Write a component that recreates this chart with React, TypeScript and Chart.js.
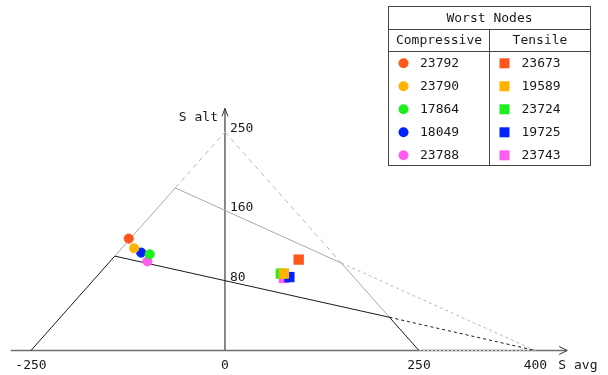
import React, { useEffect, useRef } from "react";
import { Chart, registerables } from "chart.js";

Chart.register(...registerables);

// ---- data ----
const compressiveNodes = ["23792", "23790", "17864", "18049", "23788"];
const compressiveX = [-124, -117, -97, -108, -100];
const compressiveY = [128, 117, 110, 112, 102];

const tensileNodes = ["23673", "19589", "23724", "19725", "23743"];
const tensileX = [95, 76, 72, 83, 76];
const tensileY = [104, 88, 88, 84, 83];

const nodeColors = ["#ff561c", "#ffb200", "#1ef01e", "#0022ff", "#ff5cf0"];

const xTicks = [-250, 0, 250, 400];
const xTickLabels = ["-250", "0", "250", "400"];
const yTicks = [80, 160, 250];
const yTickLabels = ["80", "160", "250"];

// diagram segments [x, y] vertices
const leftBlack = [[-250, 0], [-142, 108]];
const leftGraySolid = [[-142, 108], [-64, 186]];
const leftGrayDash = [[-64, 186], [0, 250]];
const rightGrayDash = [[0, 250], [150, 100]];
const rightGraySolid = [[150, 100], [212, 38]];
const rightBlack = [[212, 38], [250, 0]];
const lowerSolid = [[-142, 108], [212, 38]];
const lowerDash = [[212, 38], [400, 0]];
const upperSolid = [[-64, 186], [150, 100]];
const upperDash = [[150, 100], [400, 0]];
const axisDash = [[250, 0], [400, 0]];

const xAxisExtent = [-276, 441];
const yAxisTop = 277;

const FONT = '13px "DejaVu Sans Mono", "Liberation Mono", monospace';

const toPts = (arr: number[][]) => arr.map(([x, y]) => ({ x, y }));

const seg = (arr: number[][], color: string, dash: number[] = [], width = 1) => ({
  type: "scatter" as const,
  data: toPts(arr),
  showLine: true,
  borderColor: color,
  borderWidth: width,
  borderDash: dash,
  pointRadius: 0,
  pointHoverRadius: 0,
  fill: false,
});

const axesPlugin = {
  id: "axesPlugin",
  beforeDatasetsDraw(chart: any) {
    const { ctx, scales } = chart;
    const xs = scales.x;
    const ys = scales.y;
    const x0 = xs.getPixelForValue(0);
    const y0 = ys.getPixelForValue(0);
    const xl = xs.getPixelForValue(xAxisExtent[0]);
    const xr = xs.getPixelForValue(xAxisExtent[1]);
    const yt = ys.getPixelForValue(yAxisTop);
    ctx.save();
    ctx.strokeStyle = "#6e6e6e";
    ctx.lineWidth = 1.6;
    ctx.beginPath();
    ctx.moveTo(xl, y0);
    ctx.lineTo(xr, y0);
    ctx.moveTo(x0, y0);
    ctx.lineTo(x0, yt);
    ctx.stroke();
    // arrow heads
    ctx.lineWidth = 1;
    ctx.strokeStyle = "#333";
    ctx.beginPath();
    ctx.moveTo(xr - 8, y0 - 4);
    ctx.lineTo(xr, y0);
    ctx.lineTo(xr - 8, y0 + 4);
    ctx.moveTo(x0 - 3, yt + 8);
    ctx.lineTo(x0, yt);
    ctx.lineTo(x0 + 3, yt + 8);
    ctx.stroke();
    ctx.restore();
  },
  afterDraw(chart: any) {
    const { ctx, scales } = chart;
    const xs = scales.x;
    const ys = scales.y;
    const x0 = xs.getPixelForValue(0);
    const y0 = ys.getPixelForValue(0);
    ctx.save();
    ctx.font = FONT;
    ctx.fillStyle = "#1a1a1a";
    // x tick labels
    ctx.textAlign = "center";
    ctx.textBaseline = "middle";
    xTicks.forEach((v, i) => {
      ctx.fillText(xTickLabels[i], xs.getPixelForValue(v), y0 + 15);
    });
    ctx.textAlign = "left";
    ctx.fillText("S avg", xs.getPixelForValue(400) + 23, y0 + 15);
    // y tick labels
    ctx.textAlign = "left";
    ctx.textBaseline = "alphabetic";
    yTicks.forEach((v, i) => {
      ctx.fillText(yTickLabels[i], x0 + 5, ys.getPixelForValue(v));
    });
    ctx.textAlign = "right";
    ctx.textBaseline = "middle";
    ctx.fillText("S alt", x0 - 7, ys.getPixelForValue(yAxisTop) + 9);

    // legend table
    const L = 388.5, T = 6.5, R = 590.5, B = 165.5;
    const h1 = 29.5, h2 = 51.5, mid = 489.5;
    ctx.strokeStyle = "#444";
    ctx.lineWidth = 1;
    ctx.strokeRect(L, T, R - L, B - T);
    ctx.beginPath();
    ctx.moveTo(L, h1);
    ctx.lineTo(R, h1);
    ctx.moveTo(L, h2);
    ctx.lineTo(R, h2);
    ctx.moveTo(mid, h1);
    ctx.lineTo(mid, B);
    ctx.stroke();
    ctx.textAlign = "center";
    ctx.textBaseline = "middle";
    ctx.fillText("Worst Nodes", (L + R) / 2, 18.5);
    ctx.fillText("Compressive", (L + mid) / 2, 41);
    ctx.fillText("Tensile", (mid + R) / 2, 41);
    ctx.textAlign = "left";
    compressiveNodes.forEach((name, i) => {
      const cy = 63.3 + i * 23;
      ctx.fillStyle = nodeColors[i];
      ctx.beginPath();
      ctx.arc(403.5, cy, 5, 0, Math.PI * 2);
      ctx.fill();
      ctx.fillStyle = "#1a1a1a";
      ctx.fillText(name, 420, cy + 0.5);
    });
    tensileNodes.forEach((name, i) => {
      const cy = 63.3 + i * 23;
      ctx.fillStyle = nodeColors[i];
      ctx.fillRect(499.5, cy - 5, 10, 10);
      ctx.fillStyle = "#1a1a1a";
      ctx.fillText(name, 521.5, cy + 0.5);
    });
    ctx.restore();
  },
};

export default function App() {
  const ref = useRef<HTMLCanvasElement | null>(null);
  useEffect(() => {
    if (!ref.current) return;
    const circleSets = compressiveNodes.map((n, i) => ({
      type: "scatter" as const,
      label: n,
      data: [{ x: compressiveX[i], y: compressiveY[i] }],
      pointStyle: "circle",
      pointRadius: 4.6,
      backgroundColor: nodeColors[i],
      borderColor: nodeColors[i],
      borderWidth: 1,
    }));
    const squareSets = tensileNodes.map((n, i) => ({
      type: "scatter" as const,
      label: n,
      data: [{ x: tensileX[i], y: tensileY[i] }],
      pointStyle: "rect",
      pointRadius: 7.3,
      backgroundColor: nodeColors[i],
      borderColor: nodeColors[i],
      borderWidth: 0,
    }));
    const GRAY = "#a9a9a9";
    const LGRAY = "#b9b9b9";
    const lineSets = [
      seg(leftBlack, "#1a1a1a"),
      seg(rightBlack, "#1a1a1a"),
      seg(lowerSolid, "#1a1a1a"),
      seg(lowerDash, "#1a1a1a", [3, 3]),
      seg(leftGraySolid, GRAY),
      seg(rightGraySolid, GRAY),
      seg(upperSolid, GRAY),
      seg(leftGrayDash, LGRAY, [5, 4]),
      seg(rightGrayDash, LGRAY, [5, 4]),
      seg(upperDash, LGRAY, [3, 3]),
      seg(axisDash, "#c8c8c8", [2, 2], 1),
    ];
    const chart = new Chart(ref.current, {
      type: "scatter",
      data: { datasets: [...circleSets, ...squareSets, ...lineSets] as any },
      options: {
        animation: false,
        responsive: true,
        maintainAspectRatio: false,
        layout: { padding: 0, autoPadding: false },
        plugins: { legend: { display: false }, tooltip: { enabled: false } },
        scales: {
          x: { type: "linear", min: -289.9, max: 493.6, display: false },
          y: { type: "linear", min: -28.03, max: 401.0, display: false },
        },
      },
      plugins: [axesPlugin],
    });
    return () => chart.destroy();
  }, []);
  return (
    <div style={{ position: "fixed", left: 0, top: 0, width: 608, height: 375, background: "#fff" }}>
      <canvas ref={ref} />
    </div>
  );
}
